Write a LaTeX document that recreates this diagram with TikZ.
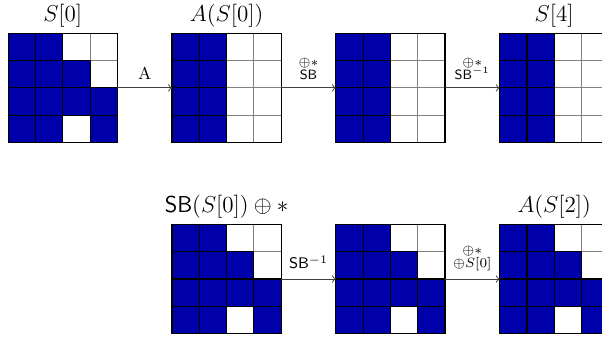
\documentclass[tikz,border=0pt]{standalone}
\usepackage{amsmath,amssymb}
\usetikzlibrary{positioning,calc,backgrounds}
\definecolor{stblue}{RGB}{0,0,170}
\tikzset{
  state/.style={rectangle, draw=black, line width=0.6pt, minimum size=2cm, inner sep=0pt, outer sep=0pt},
  cell/.style={draw=black, line width=0.6pt},
  gridline/.style={draw=gray, line width=0.5pt, step=0.5cm},
  stname/.style={font=\large, inner sep=3pt},
  op/.style={->, draw=black!75, line width=0.5pt},
  oplabel/.style={above, font=\small, inner sep=4pt, align=center},
  xorlabel/.style={oplabel, font=\scriptsize}
}
% fill the listed cells (column/row) of a state
\newcommand{\fillcells}[2]{%
  \foreach \col/\row in #2
    \fill[stblue] ($(#1.north west)+(\col-1,1-\row)$) rectangle ++(1,-1);
  \foreach \col/\row in #2
    \draw[cell] ($(#1.north west)+(\col-1,1-\row)$) rectangle ++(1,-1);
  \begin{scope}[on background layer]
    \draw[gridline] (#1.south west) grid (#1.north east);
  \end{scope}}
\newcommand{\sboxcells}{1/1,2/1,1/2,2/2,3/2,1/3,2/3,3/3,4/3,1/4,2/4,4/4}
\newcommand{\colcells}{1/1,2/1,1/2,2/2,1/3,2/3,1/4,2/4}

\begin{document}
\begin{tikzpicture}[x=0.5cm, y=0.5cm]
\useasboundingbox (-0.3,1.22) rectangle (21.75,-11.16);
\clip (-0.3,1.22) rectangle (21.75,-11.16);

% top row
\node[state] (s0) at (2,-2) {};
\node[state, right=1cm of s0] (as0) {};
\node[state, right=1cm of as0] (t1) {};
\node[state, right=1cm of t1] (s4) {};
% bottom row
\node[state, below=1.5cm of as0] (sbs0) {};
\node[state, right=1cm of sbs0] (t2) {};
\node[state, right=1cm of t2] (as2) {};

\fillcells{s0}{\sboxcells}
\fillcells{as0}{\colcells}
\fillcells{t1}{\colcells}
\fillcells{s4}{\colcells}
\fillcells{sbs0}{\sboxcells}
\fillcells{t2}{\sboxcells}
\fillcells{as2}{\sboxcells}

\node[stname, above=0pt of s0] (ls0) {$S[0]$};
\node[stname, above=0pt of as0] (las0) {$A(S[0])$};
\node[stname, above=0pt of s4] (ls4) {$S[4]$};
\node[stname, above=0pt of sbs0] (lsbs0) {$\mathsf{SB}(S[0])\oplus *$};
\node[stname, above=0pt of as2] (las2) {$A(S[2])$};

\draw[op] (s0) -- node[oplabel] {A} (as0);
\draw[op] (as0) -- node[xorlabel] {$\oplus *$\\[-1pt]\textsf{SB}} (t1);
\draw[op] (t1) -- node[xorlabel] {$\oplus *$\\[-1pt]\textsf{SB}$^{-1}$} (s4);
\draw[op] (sbs0) -- node[oplabel, font=\footnotesize, inner sep=5pt] {\textsf{SB}$^{-1}$} (t2);
\draw[op] (t2) -- node[xorlabel] {$\oplus *$\\[-1pt]$\oplus S[0]$} (as2);
\end{tikzpicture}
\end{document}
